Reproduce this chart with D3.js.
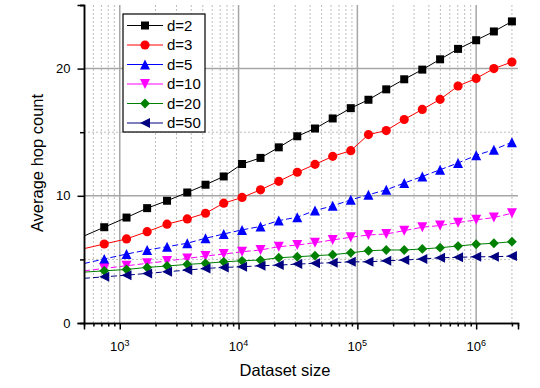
<!DOCTYPE html>
<html>
<head>
<meta charset="utf-8">
<script src="https://cdn.jsdelivr.net/npm/d3@7"></script>
<style>
  body { margin: 0; background: #fff; }
  svg text { font-family: Arial, "Liberation Sans", sans-serif; fill: #000; }
</style>
</head>
<body>
<div id="chart"></div>
<script>
// dataset sizes (x)
const sizes = [740, 1140, 1700, 2500, 3700, 5270, 7500, 10700, 15300, 21800, 31200, 44000,
  62000, 88000, 124000, 175000, 248000, 352000, 497000, 704000, 1000000, 1410000, 2000000];

const hopD2  = [7.53, 8.29, 9.03, 9.61, 10.26, 10.87, 11.52, 12.50, 12.98, 13.81, 14.68, 15.29,
  16.08, 16.89, 17.55, 18.37, 19.16, 19.92, 20.73, 21.55, 22.23, 22.92, 23.71];
const hopD3  = [6.21, 6.61, 7.18, 7.77, 8.18, 8.63, 9.42, 9.87, 10.47, 11.14, 11.85, 12.47,
  13.10, 13.55, 14.81, 15.13, 16.00, 16.79, 17.58, 18.63, 19.23, 20.00, 20.52];
const hopD5  = [5.03, 5.42, 5.74, 6.00, 6.27, 6.66, 7.00, 7.32, 7.59, 8.05, 8.32, 8.84,
  9.21, 9.68, 10.08, 10.47, 11.00, 11.52, 12.05, 12.58, 13.18, 13.63, 14.21];
const hopD10 = [4.29, 4.50, 4.69, 4.87, 5.08, 5.26, 5.42, 5.60, 5.74, 6.00, 6.13, 6.31,
  6.53, 6.74, 6.92, 7.00, 7.26, 7.53, 7.66, 7.89, 8.11, 8.29, 8.63];
const hopD20 = [4.10, 4.21, 4.37, 4.48, 4.61, 4.69, 4.81, 4.89, 4.95, 5.13, 5.21, 5.29,
  5.37, 5.52, 5.68, 5.74, 5.74, 5.82, 5.92, 6.05, 6.19, 6.27, 6.39];
const hopD50 = [3.63, 3.76, 3.90, 4.03, 4.16, 4.29, 4.37, 4.42, 4.50, 4.55, 4.63, 4.69,
  4.74, 4.81, 4.81, 4.89, 4.95, 5.03, 5.13, 5.16, 5.21, 5.21, 5.26];

const seriesNames = ["d=2", "d=3", "d=5", "d=10", "d=20", "d=50"];
const xMajorTicks = [1e3, 1e4, 1e5, 1e6];
const yTicks = [0, 10, 20];

// custom marker shapes (centered on their bounding box like Origin does)
function tri(dir) {
  return {
    draw(ctx, size) {
      const h = Math.sqrt(size) / 2;
      if (dir === "up")   { ctx.moveTo(0, -h); ctx.lineTo(h, h); ctx.lineTo(-h, h); }
      if (dir === "down") { ctx.moveTo(0, h); ctx.lineTo(h, -h); ctx.lineTo(-h, -h); }
      if (dir === "left") { ctx.moveTo(-h, 0); ctx.lineTo(h, -h); ctx.lineTo(h, h); }
      ctx.closePath();
    }
  };
}
const diamond = {
  draw(ctx, size) {
    const h = Math.sqrt(size) / 2;
    ctx.moveTo(0, -h); ctx.lineTo(h, 0); ctx.lineTo(0, h); ctx.lineTo(-h, 0); ctx.closePath();
  }
};
const square = {
  draw(ctx, size) {
    const h = Math.sqrt(size) / 2;
    ctx.rect(-h, -h, 2 * h, 2 * h);
  }
};

const series = [
  {name: seriesNames[0], values: hopD2,  color: "#000000", dash: null,  shape: square,      size: 64},
  {name: seriesNames[1], values: hopD3,  color: "#ff0000", dash: null,  shape: d3.symbolCircle, size: 66},
  {name: seriesNames[2], values: hopD5,  color: "#0000ff", dash: "6,3", shape: tri("up"),   size: 100},
  {name: seriesNames[3], values: hopD10, color: "#ff00ff", dash: "6,3", shape: tri("down"), size: 100},
  {name: seriesNames[4], values: hopD20, color: "#008000", dash: null,  shape: diamond,     size: 96},
  {name: seriesNames[5], values: hopD50, color: "#000080", dash: "6,3", shape: tri("left"), size: 100}
];

const W = 540, H = 388;
const margin = {top: 5, right: 22, bottom: 65, left: 84};
const width = W - margin.left - margin.right;
const height = H - margin.top - margin.bottom;

const x = d3.scaleLog().domain([500, 2.25e6]).range([0, width]);
const y = d3.scaleLinear().domain([0, 25]).range([height, 0]);

const svg = d3.select("#chart").append("svg")
  .attr("width", W).attr("height", H);

svg.append("defs").append("clipPath").attr("id", "clip")
  .append("rect").attr("width", width).attr("height", height);

const plot = svg.append("g")
  .attr("transform", "translate(" + margin.left + "," + margin.top + ")");

// minor x values: 2..9 times each decade inside the domain
const xMinor = [];
[100, 1e3, 1e4, 1e5, 1e6].forEach(function(dec) {
  for (let k = 2; k <= 9; k++) {
    const v = dec * k;
    if (v > 500 && v < 2.25e6 && xMajorTicks.indexOf(v) < 0) xMinor.push(v);
  }
});
const yMinor = [5, 15, 25];

// grid
const grid = plot.append("g");
grid.selectAll(".gx-minor").data(xMinor).enter().append("line")
  .attr("x1", d => x(d)).attr("x2", d => x(d)).attr("y1", 0).attr("y2", height)
  .attr("stroke", "#bdbdbd").attr("stroke-width", 1).attr("stroke-dasharray", "2,2");
grid.selectAll(".gy-minor").data(yMinor.filter(d => d < 25)).enter().append("line")
  .attr("x1", 0).attr("x2", width).attr("y1", d => y(d)).attr("y2", d => y(d))
  .attr("stroke", "#bdbdbd").attr("stroke-width", 1).attr("stroke-dasharray", "2,2");
grid.selectAll(".gx-major").data(xMajorTicks).enter().append("line")
  .attr("x1", d => x(d)).attr("x2", d => x(d)).attr("y1", 0).attr("y2", height)
  .attr("stroke", "#a6a6a6").attr("stroke-width", 1.5);
grid.selectAll(".gy-major").data(yTicks.filter(d => d > 0)).enter().append("line")
  .attr("x1", 0).attr("x2", width).attr("y1", d => y(d)).attr("y2", d => y(d))
  .attr("stroke", "#a6a6a6").attr("stroke-width", 1.5);

// lines (first segment extended back to the left edge, then clipped)
const line = d3.line().x(d => x(d[0])).y(d => y(d[1]));
const linesG = plot.append("g").attr("clip-path", "url(#clip)");
series.forEach(function(s) {
  const pts = sizes.map((v, i) => [v, s.values[i]]);
  const l0 = Math.log10(sizes[0]), l1 = Math.log10(sizes[1]);
  const slope = (s.values[1] - s.values[0]) / (l1 - l0);
  const lead = [x.domain()[0], s.values[0] + slope * (Math.log10(x.domain()[0]) - l0)];
  linesG.append("path")
    .datum([lead].concat(pts))
    .attr("d", line)
    .attr("fill", "none")
    .attr("stroke", s.color)
    .attr("stroke-width", 1)
    .attr("stroke-dasharray", s.dash);
});

// markers
series.forEach(function(s) {
  const sym = d3.symbol().type(s.shape).size(s.size);
  plot.append("g").selectAll("path")
    .data(sizes.map((v, i) => [v, s.values[i]]))
    .enter().append("path")
    .attr("transform", d => "translate(" + x(d[0]) + "," + y(d[1]) + ")")
    .attr("d", sym)
    .attr("fill", s.color);
});

// axes
const xAxisMinor = d3.axisBottom(x).tickValues(xMinor).tickSize(3.5).tickFormat("");
const xAxisMajor = d3.axisBottom(x).tickValues(xMajorTicks).tickSize(6.5).tickFormat("");
const yAxisMinor = d3.axisLeft(y).tickValues(yMinor).tickSize(4).tickFormat("");
const yAxisMajor = d3.axisLeft(y).tickValues(yTicks).tickSize(6.5).tickPadding(7);

function styleAxis(g) {
  g.select(".domain").attr("stroke", "#000").attr("stroke-width", 1.5);
  g.selectAll(".tick line").attr("stroke", "#000").attr("stroke-width", 1.5);
}

plot.append("g").attr("transform", "translate(0," + height + ")").call(xAxisMinor).call(styleAxis);
plot.append("g").attr("transform", "translate(0," + height + ")").call(xAxisMajor).call(styleAxis);
plot.append("g").call(yAxisMinor).call(styleAxis);
const yAx = plot.append("g").call(yAxisMajor).call(styleAxis);
yAx.selectAll(".tick text").style("font-size", "13px").attr("fill", "#000");

// x tick labels with superscript exponents
const xLab = plot.append("g").selectAll("text")
  .data(xMajorTicks).enter().append("text")
  .attr("x", d => x(d)).attr("y", height + 28)
  .attr("text-anchor", "middle")
  .style("font-size", "13px");
xLab.append("tspan").text("10");
xLab.append("tspan").attr("dy", -5).style("font-size", "9px")
  .text(d => Math.round(Math.log10(d)));

// axis titles
svg.append("text")
  .attr("x", margin.left + width / 2 - 16).attr("y", 376)
  .attr("text-anchor", "middle")
  .style("font-size", "16.5px")
  .text("Dataset size");

svg.append("text")
  .attr("transform", "translate(43,163) rotate(-90)")
  .attr("text-anchor", "middle")
  .style("font-size", "16.5px")
  .text("Average hop count");

// legend
const legend = svg.append("g").attr("transform", "translate(123,14)");
legend.append("rect")
  .attr("width", 82).attr("height", 118)
  .attr("fill", "#fff").attr("stroke", "#000").attr("stroke-width", 1.2);
const item = legend.selectAll(".item").data(series).enter().append("g")
  .attr("transform", (d, i) => "translate(0," + (11.5 + i * 19.5) + ")");
item.append("line")
  .attr("x1", 4).attr("x2", 40)
  .attr("stroke", d => d.color).attr("stroke-width", 1);
item.append("path")
  .attr("transform", "translate(22,0)")
  .attr("d", d => d3.symbol().type(d.shape).size(d.size)())
  .attr("fill", d => d.color);
item.append("text")
  .attr("x", 44).attr("dy", "0.36em")
  .style("font-size", "15px")
  .text(d => d.name);
</script>
</body>
</html>
